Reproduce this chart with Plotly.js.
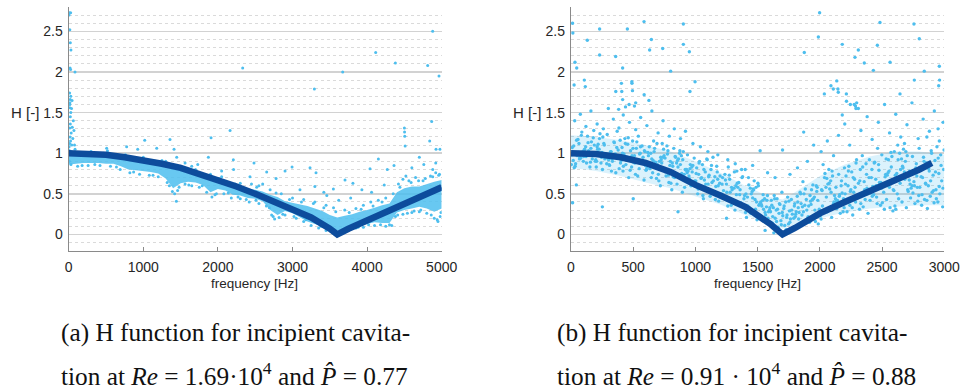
<!DOCTYPE html>
<html>
<head>
<meta charset="utf-8">
<script src="https://cdn.plot.ly/plotly-3.0.1.min.js"></script>
<style>html,body{margin:0;padding:0;background:#fff;}#chart{width:961px;height:390px;}</style>
</head>
<body>
<div id="chart"></div>
<script>
// ---------- Panel (a): fitted H curve ----------
const leftFitF = [0,250,500,750,1000,1250,1500,1750,2000,2250,2500,2750,3000,3250,3500,3600,3750,4000,4250,4500,4750,5000];
const leftFitH = [1.00,0.99,0.98,0.95,0.92,0.87,0.82,0.75,0.67,0.59,0.50,0.41,0.31,0.21,0.07,0.00,0.07,0.17,0.28,0.38,0.48,0.58];

const leftBandF  = [0,100,200,300,400,500,600,700,800,900,1000,1100,1200,1300,1400,1500,1600,1700,1800,1900,2000,2100,2200,2300,2400,2500,2600,2700,2800,2900,3000,3100,3200,3300,3400,3500,3600,3700,3800,3900,4000,4100,4200,4300,4400,4500,4600,4700,4800,4900,5000];
const leftBandLo = [0.86,0.87,0.88,0.88,0.88,0.87,0.87,0.84,0.80,0.79,0.78,0.77,0.75,0.69,0.57,0.63,0.65,0.64,0.61,0.52,0.56,0.54,0.49,0.48,0.45,0.44,0.41,0.30,0.24,0.29,0.26,0.21,0.16,0.13,0.09,0.06,0.05,0.07,0.10,0.11,0.13,0.15,0.14,0.14,0.27,0.30,0.32,0.34,0.32,0.28,0.32];
const leftBandHi = [1.06,0.99,0.98,0.98,0.98,0.97,0.96,0.95,0.92,0.91,0.90,0.89,0.87,0.85,0.81,0.79,0.77,0.75,0.73,0.69,0.67,0.64,0.61,0.59,0.57,0.55,0.53,0.49,0.46,0.41,0.39,0.37,0.35,0.32,0.29,0.24,0.21,0.23,0.25,0.28,0.30,0.33,0.36,0.38,0.52,0.57,0.59,0.59,0.62,0.65,0.67];

// individual scattered points (edges of band and outliers)
const leftPtF = [8,26,5,15,22,30,18,25,84,12,20,16,14,28,22,14,5,12,18,25,33,40,48,55,62,70,78,85,22,38,15,45,28,8,30,
 120,260,420,560,690,820,950,1080,1200,1350,1420,1443,1480,1560,1650,1750,1850,1920,1980,2080,2180,2300,2420,2550,2650,2720,2760,2820,2900,3050,3150,3250,3350,3450,3550,3650,3750,3850,3950,4100,4250,4300,4380,4480,4600,4700,4800,4900,4950,4980,
 300,520,760,1000,1250,1500,1700,1900,2050,2300,2450,2550,2700,2850,3000,3150,3300,3450,3550,3700,3850,3950,4050,4150,4250,4350,4420,4480,4520,4560,4650,4750,4850,4920,4970,
 2332,3293,3673,4115,4379,4812,4879,4964,4866,4500,4502,4505,4510,4839,4924,4977,4700,4920,4880,4151,4361,4271,4039,4230,3704,3810,3930,3548,3235,3315,2994,2900,2780,3300,3420,2163,1908,1412,1358,1019,1180,777,509,925,1872,2207,2484,2654,2430,2210,1649,1448,1300,1560,1730,2050,2600,3100,3460,3620,3780,4060,4600,4760,
 180,350,640,870,1130,1320,1390,1460,1610,1790,1960,2140,2270,2380,2510,2690,2740,2870,3020,3180,3380,3520,3690,3880,4020,4180,4330,4410,4540,4630,4720,4860,4940,4990,
 210,470,700,930,1160,1440,1620,1820,2010,2230,2520,2780,2960,3120,3280,3420,3580,3760,3920,4080,4200,4440,4590,4690,4780,4880,4960];
const leftPtH = [2.73,2.73,2.70,2.52,2.36,2.27,2.05,2.03,2.00,1.74,1.66,1.62,1.56,1.50,1.36,1.31,1.08,1.12,1.20,1.15,1.25,1.10,1.32,1.18,1.40,1.28,1.10,1.05,1.45,1.55,1.60,1.65,1.70,0.90,0.86,
 0.84,0.85,0.85,0.84,0.80,0.76,0.74,0.73,0.71,0.60,0.50,0.41,0.58,0.62,0.60,0.58,0.52,0.46,0.50,0.50,0.45,0.44,0.40,0.38,0.35,0.24,0.19,0.21,0.24,0.20,0.16,0.11,0.08,0.05,0.03,0.03,0.05,0.08,0.09,0.11,0.10,0.12,0.22,0.25,0.27,0.28,0.26,0.20,0.16,0.22,
 1.02,1.03,0.98,0.95,0.91,0.84,0.80,0.74,0.71,0.63,0.62,0.60,0.55,0.50,0.45,0.43,0.40,0.36,0.33,0.30,0.32,0.36,0.40,0.42,0.45,0.50,0.62,0.68,0.72,0.66,0.70,0.66,0.72,0.76,0.74,
 2.05,1.79,2.00,2.24,2.11,2.08,2.50,1.95,1.39,1.31,1.26,1.21,1.09,1.15,1.05,1.05,0.95,0.88,0.80,0.93,0.85,0.80,0.81,0.61,0.67,0.63,0.55,0.56,0.82,0.76,0.83,0.78,0.69,0.59,0.52,1.28,1.19,1.05,1.17,1.16,1.06,1.08,1.06,1.05,0.95,0.92,0.88,0.77,0.71,0.80,0.84,0.95,0.90,0.88,0.86,0.78,0.62,0.55,0.48,0.42,0.45,0.52,0.82,0.86,
 0.85,0.86,0.83,0.77,0.73,0.64,0.53,0.54,0.61,0.60,0.49,0.51,0.46,0.43,0.42,0.33,0.22,0.25,0.22,0.18,0.10,0.06,0.04,0.09,0.12,0.12,0.11,0.24,0.26,0.29,0.30,0.24,0.18,0.27,
 1.01,1.00,0.97,0.93,0.90,0.84,0.79,0.72,0.69,0.62,0.58,0.51,0.43,0.40,0.38,0.33,0.28,0.27,0.31,0.35,0.40,0.58,0.64,0.66,0.69,0.71,0.73];

// ---------- Panel (b) ----------
const rightFitF = [0,200,400,600,800,1000,1200,1400,1600,1700,1800,2000,2200,2400,2600,2800,2900];
const rightFitH = [1.00,0.99,0.95,0.88,0.77,0.61,0.48,0.34,0.13,0.00,0.08,0.26,0.40,0.53,0.66,0.80,0.88];

const rightCoreF = [0,200,400,600,800,1000,1200,1400,1600,1700,1800,2000,2200,2400,2600,2800,3000];
const rightCoreLo = [0.82,0.78,0.72,0.64,0.57,0.47,0.37,0.24,0.12,0.07,0.12,0.20,0.27,0.32,0.34,0.36,0.36];
const rightCoreHi = [1.22,1.20,1.16,1.10,1.02,0.90,0.76,0.60,0.46,0.43,0.52,0.72,0.86,0.96,1.02,1.02,0.98];

const rightPtF = [
 95,18,164,49,133,3,110,72,187,26,148,56,171,10,125,87,41,195,64,102,141,33,179,79,118,156,
 341,264,203,379,302,233,356,287,210,325,249,395,272,310,218,364,256,333,226,387,279,348,241,318,295,371,
 403,410,418,426,433,441,449,456,464,472,479,487,495,502,510,518,525,533,541,548,556,564,571,579,587,595,
 695,618,764,649,733,603,710,672,787,626,748,656,771,610,725,687,641,795,664,702,741,633,779,679,718,756,
 941,864,803,979,902,833,956,887,810,925,849,995,872,910,818,964,856,933,826,987,879,948,841,918,895,971,
 1003,1010,1018,1026,1033,1041,1049,1056,1064,1072,1079,1087,1095,1102,1110,1118,1125,1133,1141,1148,1156,1164,1171,1179,1187,1195,
 1295,1218,1364,1249,1333,1203,1310,1272,1387,1226,1348,1256,1371,1210,1325,1287,1241,1395,1264,1302,1341,1233,1379,1279,1318,1356,
 1541,1464,1403,1579,1502,1433,1556,1487,1410,1525,1449,1595,1472,1510,1418,1564,1456,1533,1426,1587,1479,1548,1441,1518,1495,1571,
 1603,1610,1618,1626,1633,1641,1649,1656,1664,1672,1679,1687,1695,1702,1710,1718,1725,1733,1741,1748,1756,1764,1771,1779,1787,1795,
 1895,1818,1964,1849,1933,1803,1910,1872,1987,1826,1948,1856,1971,1810,1925,1887,1841,1995,1864,1902,1941,1833,1979,1879,1918,1956,
 2141,2064,2003,2179,2102,2033,2156,2087,2010,2125,2049,2195,2072,2110,2018,2164,2056,2133,2026,2187,2079,2148,2041,2118,2095,2171,
 2203,2210,2218,2226,2233,2241,2249,2256,2264,2272,2279,2287,2295,2302,2310,2318,2325,2333,2341,2348,2356,2364,2371,2379,2387,2395,
 2495,2418,2564,2449,2533,2403,2510,2472,2587,2426,2548,2456,2571,2410,2525,2487,2441,2595,2464,2502,2541,2433,2579,2479,2518,2556,
 2741,2664,2603,2779,2702,2633,2756,2687,2610,2725,2649,2795,2672,2710,2618,2764,2656,2733,2626,2787,2679,2748,2641,2718,2695,2771,
 2803,2810,2818,2826,2833,2841,2849,2856,2864,2872,2879,2887,2895,2902,2910,2918,2925,2933,2941,2948,2956,2964,2971,2979,2987,2995,
 7,22,37,45,60,68,83,99,106,121,137,152,160,175,183,199,
 206,214,229,245,253,268,276,291,306,322,329,345,360,368,383,398,
 414,421,437,452,460,475,490,498,513,529,536,551,559,574,590,598,
 606,622,629,645,660,668,683,691,706,721,729,744,760,775,783,798,
 814,821,837,852,860,875,890,898,913,929,936,951,959,974,990,998,
 1006,1022,1029,1045,1060,1068,1083,1091,1106,1121,1129,1144,1160,1175,1183,1198,
 1214,1221,1237,1252,1260,1275,1290,1298,1313,1329,1336,1351,1359,1374,1390,1398,
 1406,1422,1429,1445,1460,1468,1483,1491,1506,1521,1529,1544,1560,1575,1583,1598,
 1614,1621,1637,1652,1660,1675,1690,1698,1713,1729,1736,1751,1759,1774,1790,1798,
 1806,1822,1829,1845,1860,1868,1883,1891,1906,1921,1929,1944,1960,1975,1983,1998,
 2014,2021,2037,2052,2060,2075,2090,2098,2113,2129,2136,2151,2159,2174,2190,2198,
 2206,2222,2229,2245,2260,2268,2283,2291,2306,2321,2329,2344,2360,2375,2383,2398,
 2414,2421,2437,2452,2460,2475,2490,2498,2513,2529,2536,2551,2559,2574,2590,2598,
 2606,2622,2629,2645,2660,2668,2683,2691,2706,2721,2729,2744,2760,2775,2783,2798,
 2814,2821,2837,2852,2860,2875,2890,2898,2913,2929,2936,2951,2959,2974,2990,2998,
 587,903,453,230,13,15,131,646,903,951,230,359,415,632,737,801,32,46,107,115,25,405,408,415,360,490,489,494,956,997,588,626,520,510,438,467,383,
 1998,1988,2483,2756,2180,2309,2462,1875,2282,2357,2430,2564,2799,2839,2960,2962,2955,2759,2136,2145,2148,2089,2036,2108,2644,2213,2214,2276,2286,2296,2309,
 30,75,120,160,210,260,300,340,385,420,470,520,560,610,650,700,740,790,830,880,920,980,1040,1100,1180,1260,1320,1400,1460,1520,1580,1640,1700,1760,1820,1870,1900,1950,
 2010,2060,2110,2150,2200,2240,2290,2330,2380,2420,2470,2520,2560,2610,2650,2700,2740,2790,2830,2880,2920,2960,2990,2245,2180,2680,2860,2950,
 252,500,43,13,860,1250,1560,1630];
const rightPtH = [
 1.02,0.91,1.14,0.97,1.21,0.86,1.05,0.95,1.10,0.82,1.00,1.17,0.93,1.07,0.88,1.26,0.99,0.90,1.12,0.96,1.03,0.84,1.19,0.94,1.08,0.89,
 0.96,1.12,0.83,1.04,0.92,1.24,0.99,0.87,1.08,0.78,1.01,1.16,0.93,0.85,1.11,0.97,1.20,0.90,1.05,0.81,0.98,1.13,0.88,1.02,0.94,1.27,
 0.91,1.07,0.78,0.99,1.18,0.86,0.95,1.11,0.70,0.93,1.03,0.83,1.15,0.89,0.97,0.74,1.06,0.92,1.21,0.81,1.00,0.88,1.09,0.95,0.67,1.02,
 0.86,1.01,0.72,0.93,1.12,0.79,0.90,1.06,0.64,0.88,0.97,0.76,1.09,0.83,0.92,0.69,1.00,0.85,1.15,0.74,0.95,0.81,1.03,0.89,0.60,0.94,
 0.78,0.93,0.63,0.85,1.02,0.70,0.81,0.97,0.55,0.79,0.88,0.66,1.00,0.74,0.84,0.60,0.91,0.76,1.06,0.65,0.86,0.72,0.95,0.80,0.52,0.83,
 0.66,0.82,0.50,0.74,0.90,0.58,0.70,0.86,0.44,0.67,0.77,0.54,0.92,0.62,0.73,0.47,0.80,0.64,0.95,0.52,0.71,0.59,0.84,0.68,0.41,0.63,
 0.55,0.70,0.39,0.62,0.78,0.46,0.57,0.73,0.33,0.54,0.64,0.42,0.80,0.50,0.60,0.36,0.67,0.48,0.83,0.40,0.58,0.45,0.71,0.52,0.30,0.49,
 0.42,0.56,0.27,0.48,0.63,0.33,0.44,0.58,0.21,0.40,0.50,0.30,0.66,0.36,0.46,0.24,0.53,0.35,0.70,0.28,0.43,0.31,0.57,0.38,0.18,0.34,
 0.28,0.42,0.14,0.33,0.48,0.20,0.30,0.44,0.09,0.26,0.37,0.17,0.52,0.23,0.32,0.11,0.40,0.21,0.46,0.13,0.29,0.19,0.43,0.25,0.08,0.35,
 0.30,0.47,0.16,0.38,0.55,0.22,0.35,0.50,0.13,0.33,0.44,0.24,0.60,0.28,0.41,0.18,0.52,0.31,0.65,0.20,0.43,0.27,0.58,0.36,0.15,0.46,
 0.42,0.62,0.23,0.51,0.72,0.30,0.47,0.66,0.19,0.44,0.58,0.33,0.80,0.38,0.54,0.26,0.69,0.41,0.86,0.28,0.56,0.36,0.75,0.48,0.21,0.60,
 0.50,0.72,0.28,0.60,0.84,0.36,0.55,0.77,0.24,0.52,0.68,0.40,0.92,0.45,0.63,0.31,0.80,0.48,0.97,0.34,0.65,0.43,0.87,0.57,0.26,0.70,
 0.57,0.80,0.33,0.68,0.93,0.42,0.62,0.86,0.29,0.59,0.76,0.46,1.01,0.51,0.71,0.36,0.89,0.54,1.06,0.39,0.73,0.49,0.96,0.64,0.31,0.78,
 0.60,0.84,0.35,0.72,0.97,0.44,0.65,0.90,0.31,0.62,0.80,0.48,1.05,0.53,0.75,0.38,0.93,0.57,1.10,0.41,0.77,0.51,1.00,0.67,0.33,0.82,
 0.58,0.82,0.36,0.70,0.95,0.43,0.63,0.88,0.32,0.60,0.78,0.47,1.03,0.52,0.73,0.39,0.91,0.55,1.08,0.40,0.75,0.50,0.98,0.66,0.34,0.80,
 0.98,1.09,0.87,1.16,1.01,0.93,1.22,0.90,1.04,0.96,1.13,0.83,1.06,0.99,1.28,0.92,
 0.90,1.05,1.18,0.95,0.80,1.10,0.99,1.23,0.86,1.02,0.93,1.14,0.76,1.07,0.97,0.88,
 1.00,0.84,1.12,0.93,1.19,0.79,0.97,1.06,0.88,1.14,0.72,0.99,1.08,0.91,1.03,0.85,
 0.80,0.97,1.08,0.70,0.91,1.02,0.84,1.12,0.66,0.95,0.88,1.05,0.77,0.99,0.73,0.90,
 0.88,0.71,0.96,0.62,0.83,1.03,0.75,0.92,0.58,0.80,0.98,0.69,0.86,0.77,0.94,0.64,
 0.75,0.56,0.88,0.69,0.48,0.80,0.62,0.93,0.71,0.53,0.85,0.66,0.43,0.77,0.60,0.72,
 0.62,0.45,0.74,0.52,0.35,0.68,0.58,0.41,0.77,0.49,0.63,0.38,0.55,0.70,0.44,0.33,
 0.50,0.35,0.61,0.26,0.45,0.55,0.31,0.40,0.60,0.22,0.37,0.49,0.27,0.42,0.20,0.33,
 0.36,0.22,0.44,0.16,0.31,0.38,0.12,0.27,0.35,0.06,0.24,0.41,0.15,0.30,0.20,0.38,
 0.25,0.40,0.19,0.50,0.34,0.28,0.56,0.43,0.22,0.48,0.37,0.61,0.30,0.53,0.42,0.27,
 0.55,0.35,0.70,0.46,0.28,0.63,0.52,0.78,0.40,0.58,0.32,0.74,0.49,0.66,0.44,0.82,
 0.62,0.41,0.78,0.53,0.33,0.70,0.58,0.88,0.46,0.66,0.38,0.83,0.55,0.74,0.50,0.92,
 0.70,0.47,0.88,0.60,0.38,0.79,0.64,0.98,0.52,0.74,0.43,0.92,0.58,0.83,0.55,1.02,
 0.73,0.50,0.92,0.63,0.40,0.82,0.68,1.02,0.55,0.78,0.45,0.96,0.60,0.87,0.58,1.06,
 0.71,0.49,0.90,0.62,0.42,0.81,0.66,1.00,0.54,0.77,0.44,0.94,0.59,0.85,0.57,1.04,
 2.62,2.59,2.53,2.53,2.60,2.48,2.39,2.40,2.34,2.25,2.21,2.19,2.05,2.27,2.29,2.01,2.12,2.05,1.90,1.82,1.84,1.86,1.76,1.66,1.76,1.86,1.88,1.77,1.76,1.88,1.72,1.65,1.62,1.58,1.57,1.60,1.54,
 2.73,2.43,2.61,2.59,2.34,2.27,2.33,2.24,2.18,2.11,2.02,2.12,2.41,2.01,2.07,1.90,1.83,1.90,1.89,1.79,1.75,1.83,1.73,1.79,1.73,1.73,1.64,1.60,1.58,1.62,1.55,
 1.40,1.48,1.33,1.52,1.36,1.30,1.55,1.42,1.31,1.47,1.38,1.29,1.44,1.34,1.52,1.25,1.40,1.21,1.30,1.18,1.27,1.12,1.08,1.02,0.98,0.92,0.87,0.80,0.85,1.03,0.76,0.70,1.04,0.74,0.82,1.26,0.90,1.10,
 1.02,1.15,0.97,1.22,1.36,1.10,1.55,1.28,1.45,1.17,1.38,1.60,1.25,1.48,1.20,1.35,1.62,1.18,1.42,1.27,1.52,1.15,1.38,1.60,1.47,1.12,1.20,1.30,
 0.34,0.44,0.61,0.39,0.28,0.20,0.05,0.02];

const captionA1 = "(a) H function for incipient cavita-";
const captionA2 = "tion at <i>Re</i> = 1.69·10<sup>4</sup> and <i>P̂</i> = 0.77";
const captionB1 = "(b) H function for incipient cavita-";
const captionB2 = "tion at <i>Re</i> = 0.91 · 10<sup>4</sup> and <i>P̂</i> = 0.88";

const dotColor = '#4DBEEE';
const lineColor = '#0d4c9c';

const traces = [
  {x: leftBandF, y: leftBandLo, xaxis:'x', yaxis:'y', mode:'lines', line:{width:0, color:dotColor}, hoverinfo:'skip', showlegend:false},
  {x: leftBandF, y: leftBandHi, xaxis:'x', yaxis:'y', mode:'lines', line:{width:0, color:dotColor}, fill:'tonexty', fillcolor:'rgba(77,190,238,0.85)', hoverinfo:'skip', showlegend:false},
  {x: leftPtF, y: leftPtH, xaxis:'x', yaxis:'y', mode:'markers', marker:{size:3, color:dotColor}, showlegend:false},
  {x: leftFitF, y: leftFitH, xaxis:'x', yaxis:'y', mode:'lines', line:{width:6.5, color:lineColor}, showlegend:false},
  {x: rightCoreF, y: rightCoreLo, xaxis:'x2', yaxis:'y2', mode:'lines', line:{width:0, color:dotColor}, hoverinfo:'skip', showlegend:false},
  {x: rightCoreF, y: rightCoreHi, xaxis:'x2', yaxis:'y2', mode:'lines', line:{width:0, color:dotColor}, fill:'tonexty', fillcolor:'rgba(77,190,238,0.2)', hoverinfo:'skip', showlegend:false},
  {x: rightPtF, y: rightPtH, xaxis:'x2', yaxis:'y2', mode:'markers', marker:{size:3.4, color:dotColor}, showlegend:false},
  {x: rightFitF, y: rightFitH, xaxis:'x2', yaxis:'y2', mode:'lines', line:{width:6.5, color:lineColor}, showlegend:false}
];

const W = 961, H = 390;
const yDom = [(H-250.7)/H, (H-7)/H];
const tickFont = {family:'Liberation Sans, Arial, sans-serif', size:14, color:'#262626'};
const capFont = {family:'Liberation Serif, Times New Roman, serif', size:25.3, color:'#111'};
const labFont = {family:'Liberation Sans, Arial, sans-serif', size:15, color:'#262626'};

function yAxis(anchor){
  return {anchor: anchor, domain: yDom, range:[-0.2,2.8], tickvals:[0,0.5,1,1.5,2,2.5], ticktext:['0','0.5','1','1.5','2','2.5'],
    showgrid:true, gridcolor:'#d2d2d2', gridwidth:1.5, zeroline:false, showline:true, linecolor:'#8a8a8a', linewidth:1.2,
    ticks:'', tickfont: tickFont, ticklabelstandoff:2,
    minor:{dtick:0.1, tick0:0, showgrid:true, gridcolor:'#dadada', griddash:'dot', gridwidth:1, ticks:''}};
}
function xAxis(anchor, dom, max, dtick){
  return {anchor: anchor, domain: dom, range:[0,max], dtick: dtick, tick0:0, showgrid:false, zeroline:false,
    showline:true, linecolor:'#8a8a8a', linewidth:1.2, ticks:'inside', ticklen:4, tickcolor:'#8a8a8a',
    tickfont: tickFont, ticklabelstandoff:3};
}

const layout = {
  width: W, height: H, margin:{l:0,r:0,t:0,b:0}, paper_bgcolor:'#fff', plot_bgcolor:'#fff', showlegend:false,
  xaxis: xAxis('y', [68.7/W, 441.7/W], 5000, 1000),
  yaxis: yAxis('x'),
  xaxis2: xAxis('y2', [571/W, 944.3/W], 3000, 500),
  yaxis2: yAxis('x2'),
  annotations: [
    {text:'H [-]', xref:'paper', yref:'paper', x:24.5/W, y:(H-113)/H, xanchor:'center', yanchor:'middle', showarrow:false, font:labFont},
    {text:'H [-]', xref:'paper', yref:'paper', x:527/W, y:(H-113)/H, xanchor:'center', yanchor:'middle', showarrow:false, font:labFont},
    {text:'frequency [Hz]', xref:'paper', yref:'paper', x:254/W, y:(H-283)/H, xanchor:'center', yanchor:'middle', showarrow:false, font:{family:'Liberation Sans, Arial, sans-serif', size:13.5, color:'#262626'}},
    {text:'frequency [Hz]', xref:'paper', yref:'paper', x:757/W, y:(H-283)/H, xanchor:'center', yanchor:'middle', showarrow:false, font:{family:'Liberation Sans, Arial, sans-serif', size:13.5, color:'#262626'}},
    {text:captionA1, xref:'paper', yref:'paper', x:59/W, y:(H-332)/H, xanchor:'left', yanchor:'middle', showarrow:false, font:capFont},
    {text:captionA2, xref:'paper', yref:'paper', x:59/W, y:(H-374)/H, xanchor:'left', yanchor:'middle', showarrow:false, font:capFont},
    {text:captionB1, xref:'paper', yref:'paper', x:555/W, y:(H-332)/H, xanchor:'left', yanchor:'middle', showarrow:false, font:capFont},
    {text:captionB2, xref:'paper', yref:'paper', x:555/W, y:(H-374)/H, xanchor:'left', yanchor:'middle', showarrow:false, font:capFont}
  ]
};

Plotly.newPlot('chart', traces, layout, {staticPlot:true, displayModeBar:false});
</script>
</body>
</html>
